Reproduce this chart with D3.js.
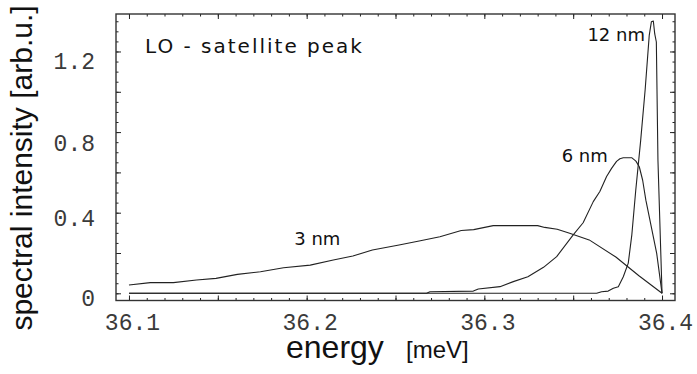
<!DOCTYPE html>
<html>
<head>
<meta charset="utf-8">
<script src="https://cdn.jsdelivr.net/npm/d3@7"></script>
<style>
  html, body { margin: 0; padding: 0; background: #fff; }
  svg { display: block; }
</style>
</head>
<body>
<svg id="chart" width="697" height="374"></svg>
<script>
// ---- data ----
const energy3nm = [36.100, 36.112, 36.125, 36.138, 36.149, 36.161, 36.174, 36.187, 36.202, 36.215, 36.226, 36.237, 36.252, 36.264, 36.275, 36.287, 36.294, 36.305, 36.330, 36.334, 36.341, 36.348, 36.359, 36.374, 36.387, 36.400];
const intensity3nm = [0.041, 0.053, 0.053, 0.066, 0.074, 0.094, 0.107, 0.127, 0.140, 0.165, 0.185, 0.215, 0.240, 0.261, 0.281, 0.312, 0.316, 0.336, 0.336, 0.327, 0.318, 0.298, 0.265, 0.180, 0.087, 0.000];

const energy6nm = [36.100, 36.2675, 36.2694, 36.2938, 36.2966, 36.3088, 36.3163, 36.3245, 36.3333, 36.3407, 36.3500, 36.3556, 36.3613, 36.3650, 36.3688, 36.3716, 36.3744, 36.3763, 36.3782, 36.3829, 36.3853, 36.3872, 36.3891, 36.3909, 36.3970, 36.4000];
const intensity6nm = [0, 0, 0.008, 0.011, 0.021, 0.033, 0.058, 0.082, 0.129, 0.182, 0.290, 0.350, 0.455, 0.505, 0.580, 0.620, 0.655, 0.668, 0.673, 0.673, 0.656, 0.628, 0.561, 0.462, 0.198, 0];

const energy12nm = [36.100, 36.3632, 36.3660, 36.3697, 36.3726, 36.3754, 36.3782, 36.3810, 36.3830, 36.3852, 36.3880, 36.3905, 36.3928, 36.3940, 36.3951, 36.3959, 36.3968, 36.3977, 36.4000];
const intensity12nm = [0, 0, 0.008, 0.011, 0.025, 0.033, 0.082, 0.150, 0.290, 0.510, 0.760, 1.010, 1.280, 1.347, 1.351, 1.287, 1.247, 0.662, 0];

const xTickLabels = ["36.1", "36.2", "36.3", "36.4"];
const yTickLabels = ["0", "0.4", "0.8", "1.2"];
const seriesLabels = ["3 nm", "6 nm", "12 nm"];
const titleText = "LO - satellite  peak";

// ---- layout ----
const svg = d3.select("#chart");
const frame = { left: 116, right: 675, top: 14, bottom: 300.5 };
const ink = "#222";

const x = d3.scaleLinear().domain([36.0927, 36.4073]).range([frame.left, frame.right]);
const y = d3.scaleLinear().domain([-0.0357, 1.386]).range([frame.bottom, frame.top]);

// tick value sets
const xMinor = d3.range(0, 31).map(i => +(36.1 + i * 0.01).toFixed(2));
const xMajor = d3.range(0, 7).map(i => +(36.1 + i * 0.05).toFixed(2));
const yMinor = d3.range(0, 28).map(i => +(i * 0.05).toFixed(2));
const yMajor = d3.range(0, 7).map(i => +(i * 0.2).toFixed(2));

function tickLayer(axisFn, scale, values, size, transform) {
  const g = svg.append("g").attr("transform", transform)
    .call(axisFn(scale).tickValues(values).tickSize(-size).tickFormat(""));
  g.select(".domain").remove();
  g.selectAll(".tick line").attr("stroke", ink).attr("stroke-width", 1);
}

// inward ticks on all four sides
tickLayer(d3.axisBottom, x, xMinor, 2.5, `translate(0,${frame.bottom})`);
tickLayer(d3.axisBottom, x, xMajor, 5, `translate(0,${frame.bottom})`);
tickLayer(d3.axisTop, x, xMinor, 2.5, `translate(0,${frame.top})`);
tickLayer(d3.axisTop, x, xMajor, 5, `translate(0,${frame.top})`);
tickLayer(d3.axisLeft, y, yMinor, 2.5, `translate(${frame.left},0)`);
tickLayer(d3.axisLeft, y, yMajor, 5, `translate(${frame.left},0)`);
tickLayer(d3.axisRight, y, yMinor, 2.5, `translate(${frame.right},0)`);
tickLayer(d3.axisRight, y, yMajor, 5, `translate(${frame.right},0)`);

// frame
svg.append("rect")
  .attr("x", frame.left).attr("y", frame.top)
  .attr("width", frame.right - frame.left).attr("height", frame.bottom - frame.top)
  .attr("fill", "none").attr("stroke", "#333").attr("stroke-width", 1.4);

// tick labels
const monoFont = "'Liberation Mono', 'DejaVu Sans Mono', monospace";
const xLab = svg.append("g").attr("transform", `translate(0,${frame.bottom})`)
  .call(d3.axisBottom(x).tickValues(xTickLabels.map(Number)).tickSize(0).tickPadding(0)
    .tickFormat((d, i) => xTickLabels[i]));
xLab.select(".domain").remove();
xLab.selectAll("text")
  .attr("font-family", monoFont)
  .attr("font-size", 23).attr("fill", "#3a3a3a")
  .attr("dx", 3).attr("y", 0).attr("dy", 29);

const yLab = svg.append("g").attr("transform", `translate(${frame.left},0)`)
  .call(d3.axisLeft(y).tickValues(yTickLabels.map(Number)).tickSize(0).tickPadding(21)
    .tickFormat((d, i) => yTickLabels[i]));
yLab.select(".domain").remove();
yLab.selectAll("text")
  .attr("font-family", monoFont)
  .attr("font-size", 23).attr("fill", "#3a3a3a")
  .attr("dy", (d, i) => [12.5, 13, 18, 17][i]);

// curves
const line = d3.line().x(d => x(d[0])).y(d => y(d[1]));
const series = [
  [energy3nm, intensity3nm],
  [energy6nm, intensity6nm],
  [energy12nm, intensity12nm]
];
series.forEach(([ex, iy]) => {
  svg.append("path")
    .datum(ex.map((e, i) => [e, iy[i]]))
    .attr("d", line)
    .attr("fill", "none")
    .attr("stroke", ink)
    .attr("stroke-width", 1.1)
    .attr("stroke-linejoin", "round");
});

// annotations (placed in data coordinates)
const annoFont = "'DejaVu Sans', Verdana, sans-serif";
const annos = [
  { t: seriesLabels[0], ex: 36.1930, iy: 0.242, anchor: "start" },
  { t: seriesLabels[1], ex: 36.3435, iy: 0.654, anchor: "start" },
  { t: seriesLabels[2], ex: 36.3904, iy: 1.250, anchor: "end" }
];
annos.forEach(a => {
  svg.append("text")
    .attr("x", x(a.ex)).attr("y", y(a.iy))
    .attr("text-anchor", a.anchor)
    .attr("font-family", annoFont).attr("font-size", 18)
    .attr("fill", "#111")
    .text(a.t);
});

svg.append("text")
  .attr("x", 145).attr("y", 52.5)
  .attr("font-family", annoFont).attr("font-size", 20)
  .attr("letter-spacing", 2)
  .attr("fill", "#111")
  .text(titleText);

// axis titles
const axisFont = "'Liberation Sans', Arial, Helvetica, sans-serif";
const xt = svg.append("text")
  .attr("y", 358)
  .attr("font-family", axisFont).attr("fill", "#111");
xt.append("tspan").attr("x", 286).attr("font-size", 32).text("energy");
xt.append("tspan").attr("x", 406).attr("font-size", 24).text("[meV]");

svg.append("text")
  .attr("transform", "translate(32,168) rotate(-90)")
  .attr("text-anchor", "middle")
  .attr("font-family", axisFont).attr("font-size", 30)
  .attr("fill", "#111")
  .text("spectral intensity [arb.u.]");
</script>
</body>
</html>
